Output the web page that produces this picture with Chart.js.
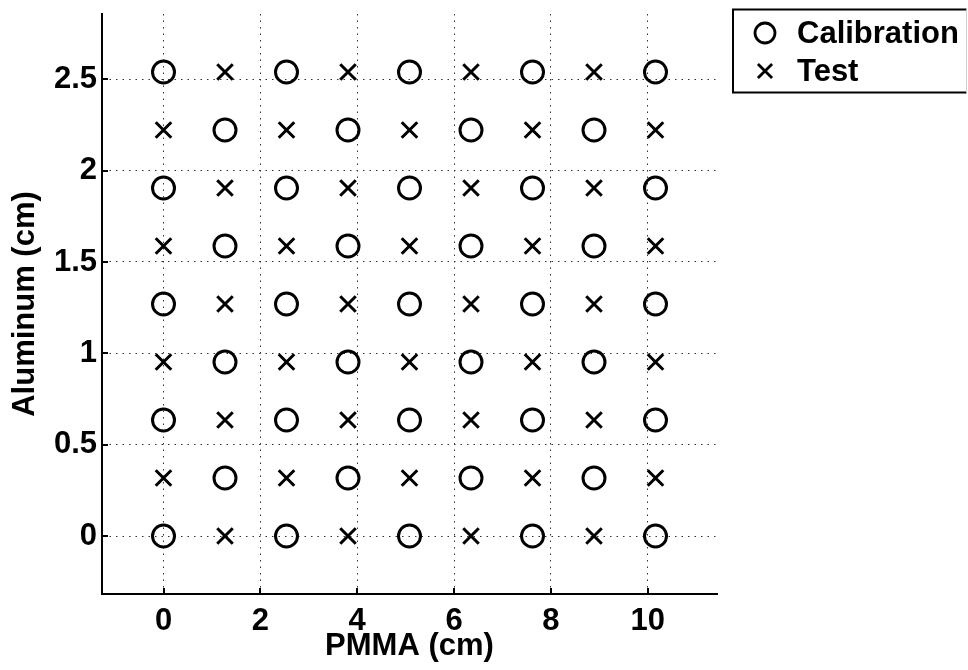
<!DOCTYPE html>
<html>
<head>
<meta charset="utf-8">
<title>PMMA / Aluminum step wedge</title>
<script src="https://cdn.jsdelivr.net/npm/chart.js@4/dist/chart.umd.min.js"></script>
<style>
  html, body { margin: 0; padding: 0; background: #fff; }
  #wrap { position: relative; width: 968px; height: 670px; }
</style>
</head>
<body>
<div id="wrap"><canvas id="chart"></canvas></div>
<script>
// Step thicknesses (cm)
const calibrationX = [
  0, 2.54, 5.08, 7.62, 10.16,
  1.27, 3.81, 6.35, 8.89,
  0, 2.54, 5.08, 7.62, 10.16,
  1.27, 3.81, 6.35, 8.89,
  0, 2.54, 5.08, 7.62, 10.16,
  1.27, 3.81, 6.35, 8.89,
  0, 2.54, 5.08, 7.62, 10.16,
  1.27, 3.81, 6.35, 8.89,
  0, 2.54, 5.08, 7.62, 10.16
];
const calibrationY = [
  0, 0, 0, 0, 0,
  0.3175, 0.3175, 0.3175, 0.3175,
  0.635, 0.635, 0.635, 0.635, 0.635,
  0.9525, 0.9525, 0.9525, 0.9525,
  1.27, 1.27, 1.27, 1.27, 1.27,
  1.5875, 1.5875, 1.5875, 1.5875,
  1.905, 1.905, 1.905, 1.905, 1.905,
  2.2225, 2.2225, 2.2225, 2.2225,
  2.54, 2.54, 2.54, 2.54, 2.54
];
const testX = [
  1.27, 3.81, 6.35, 8.89,
  0, 2.54, 5.08, 7.62, 10.16,
  1.27, 3.81, 6.35, 8.89,
  0, 2.54, 5.08, 7.62, 10.16,
  1.27, 3.81, 6.35, 8.89,
  0, 2.54, 5.08, 7.62, 10.16,
  1.27, 3.81, 6.35, 8.89,
  0, 2.54, 5.08, 7.62, 10.16,
  1.27, 3.81, 6.35, 8.89
];
const testY = [
  0, 0, 0, 0,
  0.3175, 0.3175, 0.3175, 0.3175, 0.3175,
  0.635, 0.635, 0.635, 0.635,
  0.9525, 0.9525, 0.9525, 0.9525, 0.9525,
  1.27, 1.27, 1.27, 1.27,
  1.5875, 1.5875, 1.5875, 1.5875, 1.5875,
  1.905, 1.905, 1.905, 1.905,
  2.2225, 2.2225, 2.2225, 2.2225, 2.2225,
  2.54, 2.54, 2.54, 2.54
];
const seriesNames = ['Calibration', 'Test'];
const xTickLabels = ['0', '2', '4', '6', '8', '10'];
const yTickLabels = ['0', '0.5', '1', '1.5', '2', '2.5'];
const xTitle = 'PMMA (cm)';
const yTitle = 'Aluminum (cm)';

const toPoints = (xs, ys) => xs.map((x, i) => ({ x: x, y: ys[i] }));

const FONT_FAMILY = '"Liberation Sans", Arial, Helvetica, sans-serif';
const FONT_SIZE = 31;
Chart.defaults.font.family = FONT_FAMILY;
Chart.defaults.font.weight = 'bold';
Chart.defaults.color = '#000';

// Short inward tick marks on the left and bottom axes
const inwardTicks = {
  id: 'inwardTicks',
  afterDraw(chart) {
    const ctx = chart.ctx;
    const xs = chart.scales.x, ys = chart.scales.y;
    const area = chart.chartArea;
    ctx.save();
    ctx.strokeStyle = '#000';
    ctx.lineWidth = 2;
    ctx.beginPath();
    xs.ticks.forEach(t => {
      const px = Math.round(xs.getPixelForValue(t.value));
      ctx.moveTo(px, area.bottom);
      ctx.lineTo(px, area.bottom - 6);
    });
    ys.ticks.forEach(t => {
      const py = Math.round(ys.getPixelForValue(t.value));
      ctx.moveTo(area.left, py);
      ctx.lineTo(area.left + 6, py);
    });
    ctx.stroke();
    ctx.restore();
  }
};

// Boxed legend to the right of the plot
const boxedLegend = {
  id: 'boxedLegend',
  afterDraw(chart) {
    const ctx = chart.ctx;
    const left = 733, top = 9.5, right = 966.5, bottom = 92.5;
    ctx.save();
    ctx.lineWidth = 2;
    ctx.strokeStyle = '#000';
    ctx.beginPath();
    ctx.moveTo(right, top);
    ctx.lineTo(left, top);
    ctx.lineTo(left, bottom);
    ctx.lineTo(right, bottom);
    ctx.stroke();
    ctx.lineWidth = 1;
    ctx.strokeStyle = '#d0d0d0';
    ctx.beginPath();
    ctx.moveTo(right, top);
    ctx.lineTo(right, bottom);
    ctx.stroke();

    const rows = [33, 71];
    chart.data.datasets.forEach((ds, i) => {
      const cy = rows[i];
      ctx.strokeStyle = '#000';
      ctx.fillStyle = 'rgba(0,0,0,0)';
      ctx.lineWidth = 2.8;
      Chart.helpers.drawPoint(ctx, {
        pointStyle: ds.pointStyle,
        radius: 10,
        borderWidth: 2.8,
        rotation: 0
      }, 765, cy);
      ctx.font = 'bold ' + FONT_SIZE + 'px ' + FONT_FAMILY;
      ctx.fillStyle = '#000';
      ctx.textAlign = 'left';
      ctx.textBaseline = 'middle';
      ctx.fillText(ds.label, 797, cy + 1);
    });
    ctx.restore();
  }
};

// Keep the plot area fixed: no extra room reserved for edge tick labels
const noEdgePadding = scale => {
  scale.paddingTop = 0;
  scale.paddingBottom = 0;
  scale.paddingLeft = 0;
  scale.paddingRight = 0;
};

new Chart(document.getElementById('chart'), {
  type: 'scatter',
  data: {
    datasets: [
      {
        label: seriesNames[0],
        data: toPoints(calibrationX, calibrationY),
        pointStyle: 'circle',
        pointRadius: 11,
        pointHoverRadius: 11,
        pointBorderWidth: 3,
        borderColor: '#000',
        backgroundColor: 'rgba(0,0,0,0)',
        pointBackgroundColor: 'rgba(0,0,0,0)'
      },
      {
        label: seriesNames[1],
        data: toPoints(testX, testY),
        pointStyle: 'crossRot',
        pointRadius: 11,
        pointHoverRadius: 11,
        pointBorderWidth: 3,
        borderColor: '#000',
        backgroundColor: 'rgba(0,0,0,0)'
      }
    ]
  },
  options: {
    responsive: true,
    maintainAspectRatio: false,
    animation: false,
    events: [],
    layout: { padding: { left: 0, top: 9.5, right: 251, bottom: 0 } },
    plugins: {
      legend: { display: false },
      tooltip: { enabled: false }
    },
    scales: {
      x: {
        type: 'linear',
        min: -1.27,
        max: 11.43,
        afterFit(scale) { scale.height = 76; noEdgePadding(scale); },
        ticks: {
          stepSize: 2,
          includeBounds: false,
          padding: 9,
          font: { size: FONT_SIZE, weight: 'bold' },
          color: '#000',
          maxRotation: 0,
          callback(value, index) { return xTickLabels[index]; }
        },
        grid: {
          drawTicks: false,
          color: '#333',
          lineWidth: 1
        },
        border: { display: true, color: '#000', width: 2, dash: [1.5, 5] },
        title: {
          display: true,
          text: xTitle,
          color: '#000',
          font: { size: FONT_SIZE, weight: 'bold' },
          padding: { top: 0, bottom: 5 }
        }
      },
      y: {
        type: 'linear',
        min: -0.3175,
        max: 2.8575,
        afterFit(scale) { scale.width = 102; noEdgePadding(scale); },
        ticks: {
          stepSize: 0.5,
          includeBounds: false,
          padding: 5,
          font: { size: FONT_SIZE, weight: 'bold' },
          color: '#000',
          callback(value, index) { return yTickLabels[index]; }
        },
        grid: {
          drawTicks: false,
          color: '#333',
          lineWidth: 1
        },
        border: { display: true, color: '#000', width: 2, dash: [1.5, 5] },
        title: {
          display: true,
          text: yTitle,
          color: '#000',
          font: { size: FONT_SIZE, weight: 'bold' },
          padding: { top: 7, bottom: 0 }
        }
      }
    }
  },
  plugins: [inwardTicks, boxedLegend]
});
</script>
</body>
</html>
